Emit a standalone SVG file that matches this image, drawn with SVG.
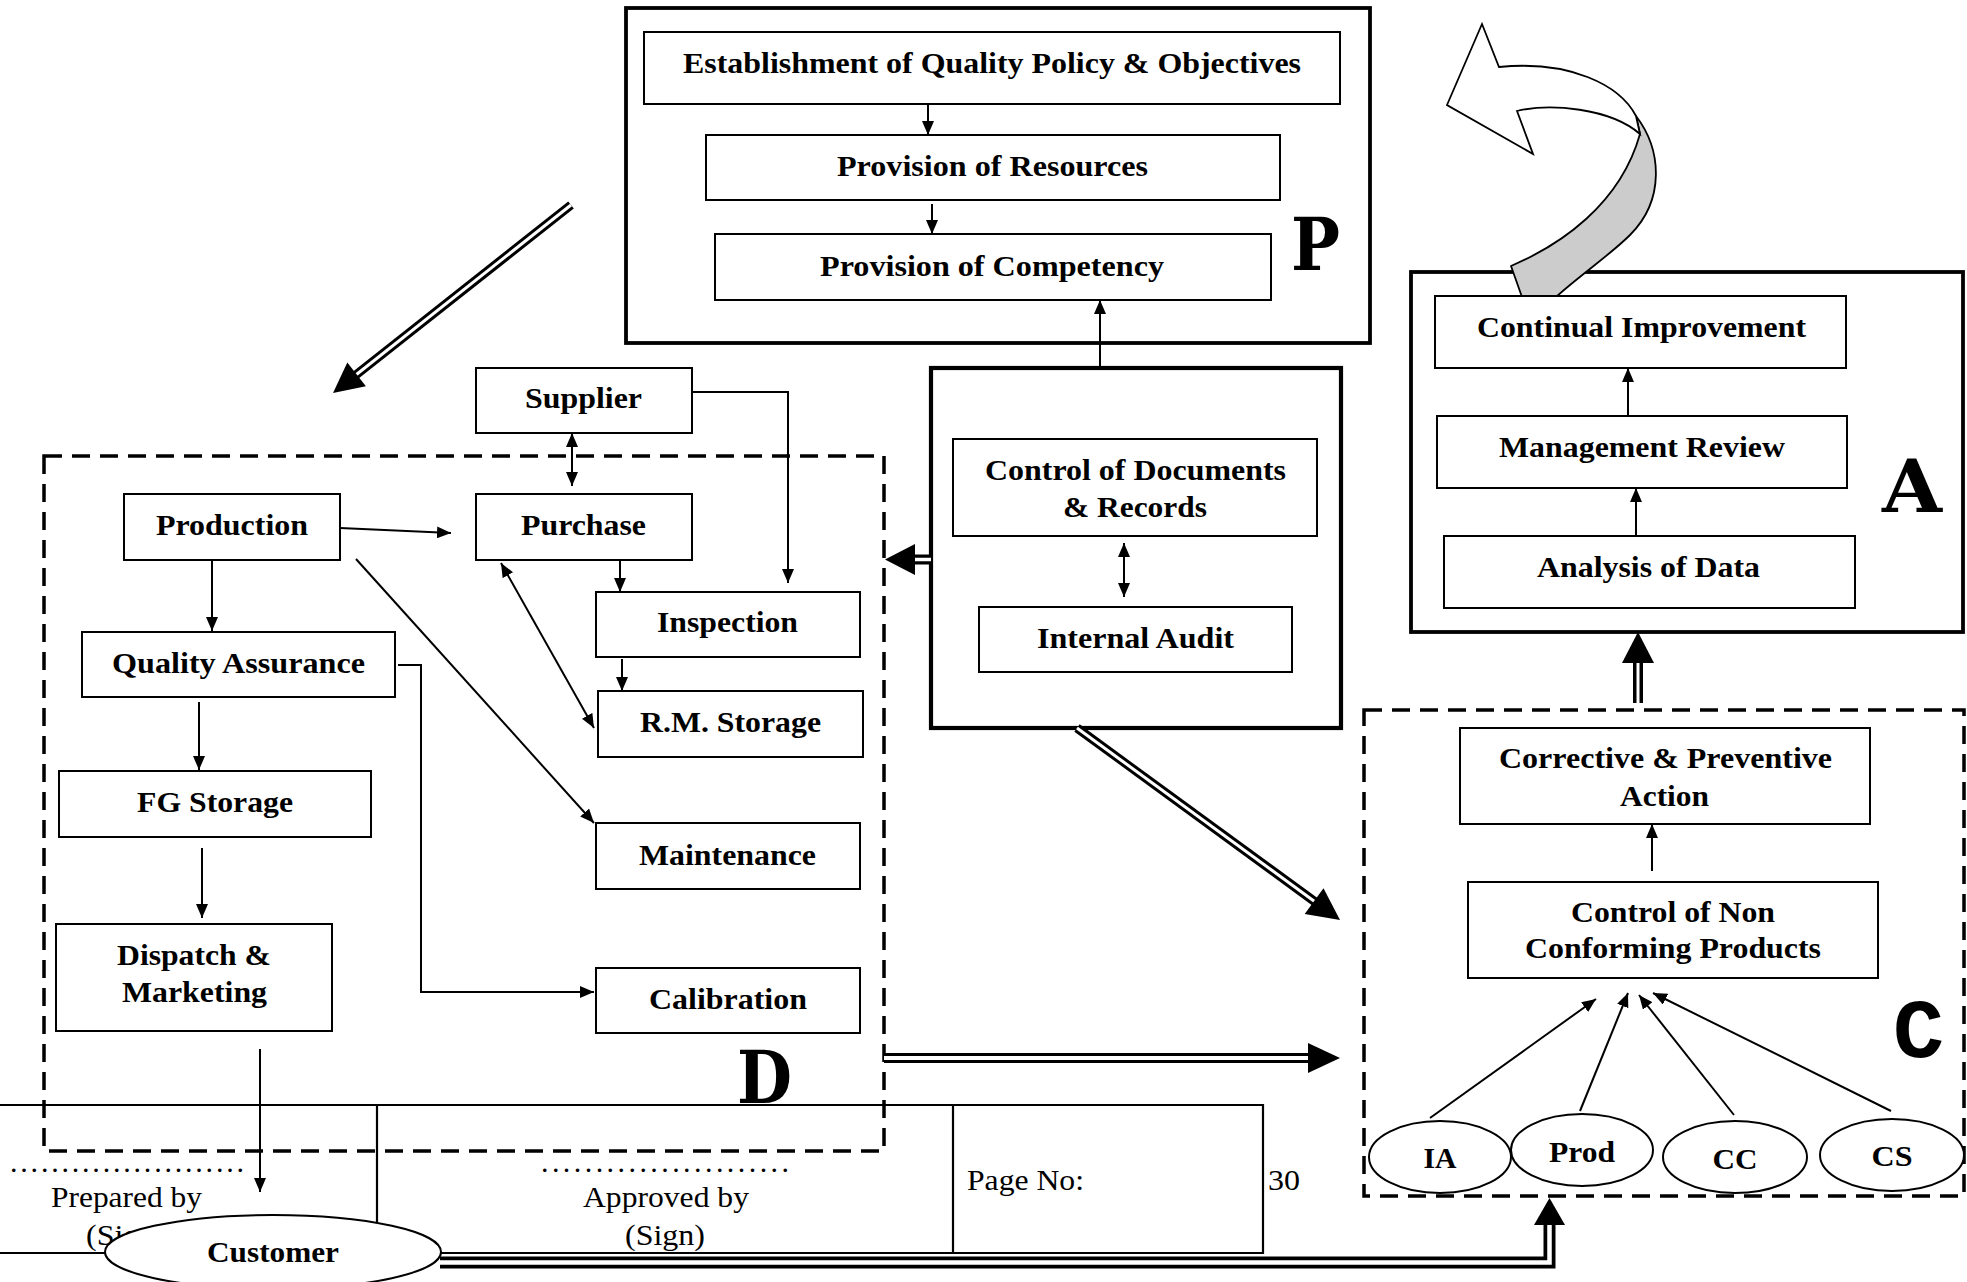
<svg xmlns="http://www.w3.org/2000/svg" width="1967" height="1282" viewBox="0 0 1967 1282">
<style>
.box{fill:#fff;stroke:#000;stroke-width:2}
.outer{fill:none;stroke:#000;stroke-width:3.8}
.dash{fill:none;stroke:#000;stroke-width:3.5;stroke-dasharray:18 10}
.t{font-family:"Liberation Serif","Times New Roman",serif;font-weight:bold;font-size:30px;fill:#000}
.r{font-weight:normal}
.big{font-family:"DejaVu Serif","Courier New",serif;font-weight:bold;font-size:72px;fill:#000}
.bigc{font-family:"Liberation Mono","Courier New",monospace;font-weight:bold;font-size:84px;fill:#000}
.ln{fill:none;stroke:#000;stroke-width:2}
.tbl{fill:none;stroke:#000;stroke-width:2.2}
.dblk{fill:none;stroke:#000;stroke-width:10}
.dwht{fill:none;stroke:#fff;stroke-width:4}
.ell{fill:#fff;stroke:#000;stroke-width:2}
</style>
<defs>
<marker id="ah" viewBox="0 0 14 12" refX="14" refY="6" markerWidth="14" markerHeight="12" markerUnits="userSpaceOnUse" orient="auto-start-reverse"><path d="M0,0 L14,6 L0,12 z" fill="#000"/></marker>
</defs>
<rect width="1967" height="1282" fill="#fff"/>

<!-- Footer table -->
<g id="footer">
<path class="tbl" d="M0,1105 H1263 V1253 H0 M377,1105 V1253 M953,1105 V1253"/>
<text class="t" x="10" y="1172" textLength="234" lengthAdjust="spacing" style="font-weight:normal">.......................</text>
<text class="t" x="541" y="1172" textLength="248" lengthAdjust="spacing" style="font-weight:normal">.......................</text>
<text class="t r" x="51" y="1207" textLength="151" lengthAdjust="spacingAndGlyphs" font-size="29">Prepared by</text>
<text class="t r" x="86" y="1245" textLength="80" lengthAdjust="spacingAndGlyphs" font-size="29">(Sign)</text>
<text class="t r" x="583" y="1207" textLength="166" lengthAdjust="spacingAndGlyphs" font-size="29">Approved by</text>
<text class="t r" x="625" y="1245" textLength="80" lengthAdjust="spacingAndGlyphs" font-size="29">(Sign)</text>
<text class="t r" x="967" y="1190" textLength="117" lengthAdjust="spacingAndGlyphs" font-size="29">Page No:</text>
<text class="t r" x="1268" y="1190" textLength="32" lengthAdjust="spacingAndGlyphs" font-size="29">30</text>
</g>

<!-- P section -->
<g id="plan">
<rect class="outer" x="626" y="8" width="744" height="335"/>
<text class="big" x="1291" y="270" textLength="49" lengthAdjust="spacingAndGlyphs">P</text>
</g>
<g id="establishment"><rect class="box" x="644" y="32" width="696" height="72"/>
<text class="t" x="683" y="73" font-size="27" textLength="618" lengthAdjust="spacingAndGlyphs">Establishment of Quality Policy &amp; Objectives</text></g>
<g id="resources"><rect class="box" x="706" y="135" width="574" height="65"/>
<text class="t" x="837" y="176" font-size="29" textLength="311" lengthAdjust="spacingAndGlyphs">Provision of Resources</text></g>
<g id="competency"><rect class="box" x="715" y="234" width="556" height="66"/>
<text class="t" x="820" y="276" font-size="29" textLength="344" lengthAdjust="spacingAndGlyphs">Provision of Competency</text></g>

<!-- D section -->
<g id="do">
<rect class="dash" x="44" y="456" width="840" height="695"/>
<text class="big" x="737" y="1103" textLength="55" lengthAdjust="spacingAndGlyphs">D</text>
</g>
<g id="supplier"><rect class="box" x="476" y="368" width="216" height="65"/>
<text class="t" x="525" y="408" textLength="117" lengthAdjust="spacingAndGlyphs">Supplier</text></g>
<g id="production"><rect class="box" x="124" y="494" width="216" height="66"/>
<text class="t" x="156" y="535" textLength="152" lengthAdjust="spacingAndGlyphs">Production</text></g>
<g id="purchase"><rect class="box" x="476" y="494" width="216" height="66"/>
<text class="t" x="521" y="535" textLength="125" lengthAdjust="spacingAndGlyphs">Purchase</text></g>
<g id="quality-assurance"><rect class="box" x="82" y="632" width="313" height="65"/>
<text class="t" x="112" y="673" textLength="253" lengthAdjust="spacingAndGlyphs">Quality Assurance</text></g>
<g id="inspection"><rect class="box" x="596" y="592" width="264" height="65"/>
<text class="t" x="657" y="632" textLength="141" lengthAdjust="spacingAndGlyphs">Inspection</text></g>
<g id="rm-storage"><rect class="box" x="598" y="691" width="265" height="66"/>
<text class="t" x="640" y="732" textLength="181" lengthAdjust="spacingAndGlyphs">R.M. Storage</text></g>
<g id="fg-storage"><rect class="box" x="59" y="771" width="312" height="66"/>
<text class="t" x="137" y="812" textLength="156" lengthAdjust="spacingAndGlyphs">FG Storage</text></g>
<g id="maintenance"><rect class="box" x="596" y="823" width="264" height="66"/>
<text class="t" x="639" y="865" textLength="177" lengthAdjust="spacingAndGlyphs">Maintenance</text></g>
<g id="dispatch"><rect class="box" x="56" y="924" width="276" height="107"/>
<text class="t" x="117" y="965" textLength="154" lengthAdjust="spacingAndGlyphs">Dispatch &amp;</text>
<text class="t" x="122" y="1002" textLength="145" lengthAdjust="spacingAndGlyphs">Marketing</text></g>
<g id="calibration"><rect class="box" x="596" y="968" width="264" height="65"/>
<text class="t" x="649" y="1009" textLength="158" lengthAdjust="spacingAndGlyphs">Calibration</text></g>

<!-- Check (control) box -->
<g id="control-box"><rect class="outer" x="931" y="368" width="410" height="360" style="stroke-width:4.2"/></g>
<g id="documents"><rect class="box" x="953" y="439" width="364" height="97"/>
<text class="t" x="985" y="480" textLength="301" lengthAdjust="spacingAndGlyphs">Control of Documents</text>
<text class="t" x="1063" y="517" textLength="144" lengthAdjust="spacingAndGlyphs">&amp; Records</text></g>
<g id="internal-audit"><rect class="box" x="979" y="607" width="313" height="65"/>
<text class="t" x="1037" y="648" textLength="197" lengthAdjust="spacingAndGlyphs">Internal Audit</text></g>

<!-- A section -->
<g id="act">
<rect class="outer" x="1411" y="272" width="552" height="360"/>
<text class="big" x="1882" y="512" textLength="60" lengthAdjust="spacingAndGlyphs">A</text>
</g>
<g id="cycle-arrow">
<path d="M1636,116 C1662,150 1665,200 1630,235 C1610,255 1580,275 1556,297 L1522,297 L1511,266 C1560,245 1620,205 1640,134 Z" fill="#ccc" stroke="#000" stroke-width="1.8" stroke-linejoin="round"/>
<path d="M1482,24 L1447,105 L1533,154 L1517,111 C1550,103 1610,108 1640,134 L1636,116 C1620,85 1570,60 1499,67 Z" fill="#fff" stroke="#000" stroke-width="1.8" stroke-linejoin="miter"/>
</g>
<g id="continual-improvement"><rect class="box" x="1435" y="296" width="411" height="72"/>
<text class="t" x="1477" y="337" textLength="329" lengthAdjust="spacingAndGlyphs">Continual Improvement</text></g>
<g id="management-review"><rect class="box" x="1437" y="416" width="410" height="72"/>
<text class="t" x="1499" y="457" textLength="286" lengthAdjust="spacingAndGlyphs">Management Review</text></g>
<g id="analysis"><rect class="box" x="1444" y="536" width="411" height="72"/>
<text class="t" x="1537" y="577" textLength="223" lengthAdjust="spacingAndGlyphs">Analysis of Data</text></g>

<!-- C section -->
<g id="check">
<rect class="dash" x="1364" y="710" width="600" height="486"/>
<text class="bigc" x="1893" y="1057" textLength="51" lengthAdjust="spacingAndGlyphs">C</text>
</g>
<g id="capa"><rect class="box" x="1460" y="728" width="410" height="96"/>
<text class="t" x="1499" y="768" textLength="333" lengthAdjust="spacingAndGlyphs">Corrective &amp; Preventive</text>
<text class="t" x="1620" y="806" textLength="89" lengthAdjust="spacingAndGlyphs">Action</text></g>
<g id="nonconforming"><rect class="box" x="1468" y="882" width="410" height="96"/>
<text class="t" x="1571" y="922" textLength="204" lengthAdjust="spacingAndGlyphs">Control of Non</text>
<text class="t" x="1525" y="958" textLength="296" lengthAdjust="spacingAndGlyphs">Conforming Products</text></g>
<g id="ia"><ellipse class="ell" cx="1440" cy="1157" rx="71" ry="36"/>
<text class="t" x="1440" y="1168" text-anchor="middle" textLength="33" lengthAdjust="spacingAndGlyphs">IA</text></g>
<g id="prod"><ellipse class="ell" cx="1582" cy="1150" rx="71" ry="36"/>
<text class="t" x="1582" y="1162" text-anchor="middle" textLength="66" lengthAdjust="spacingAndGlyphs">Prod</text></g>
<g id="cc"><ellipse class="ell" cx="1735" cy="1157" rx="72" ry="36"/>
<text class="t" x="1735" y="1169" text-anchor="middle" textLength="45" lengthAdjust="spacingAndGlyphs">CC</text></g>
<g id="cs"><ellipse class="ell" cx="1892" cy="1155" rx="72" ry="36"/>
<text class="t" x="1892" y="1166" text-anchor="middle" textLength="41" lengthAdjust="spacingAndGlyphs">CS</text></g>

<!-- Connectors -->
<g id="connectors">
<g class="ln" marker-end="url(#ah)">
<path d="M928,104 V135"/>
<path d="M932,204 V234"/>
<path d="M1100,368 V300"/>
<path d="M572,433 V486" marker-start="url(#ah)"/>
<path d="M692,392 H788 V583"/>
<path d="M340,528 L451,533"/>
<path d="M212,560 V631"/>
<path d="M356,559 L594,823"/>
<path d="M620,560 V592"/>
<path d="M501,563 L594,728" marker-start="url(#ah)"/>
<path d="M622,659 V691"/>
<path d="M199,702 V770"/>
<path d="M398,665 H421 V992 H594"/>
<path d="M202,848 V918"/>
<path d="M260,1049 V1192"/>
<path d="M1124,543 V597" marker-start="url(#ah)"/>
<path d="M1628,416 V368"/>
<path d="M1636,536 V488"/>
<path d="M1652,871 V824"/>
<path d="M1430,1118 L1596,999"/>
<path d="M1580,1111 L1628,993"/>
<path d="M1734,1115 L1639,995"/>
<path d="M1891,1111 L1653,993"/>
</g>
<g id="double-arrows">
<path class="dblk" d="M571,205 L352,378" style="stroke-width:9"/>
<path class="dwht" d="M571,205 L352,378" style="stroke-width:3"/>
<polygon points="333,393 365.9,386.2 347.3,362.6"/>
<path class="dblk" d="M931,559.5 H910"/>
<path class="dwht" d="M931,559.5 H910" style="stroke-width:3.5"/>
<polygon points="885,559.5 915,544 915,575"/>
<path class="dblk" d="M1077,728 L1318,904" style="stroke-width:9"/>
<path class="dwht" d="M1077,728 L1318,904" style="stroke-width:3"/>
<polygon points="1340,920 1304.7,914 1323.5,888.2"/>
<path class="dblk" d="M884,1058 H1312"/>
<path class="dwht" d="M884,1058 H1312"/>
<polygon points="1340,1058 1308,1043 1308,1073"/>
<path class="dblk" d="M1638,703 V658"/>
<path class="dwht" d="M1638,703 V658" style="stroke-width:3"/>
<polygon points="1638,632 1622,663 1654,663"/>
</g>
</g>

<!-- Customer -->
<g id="customer-link">
<path class="dblk" d="M440,1262.5 H1549.5 V1220" style="stroke-width:12"/>
<path class="dwht" d="M440,1262.5 H1549.5 V1220" style="stroke-width:4.5"/>
<polygon points="1549.5,1198 1534,1225 1565,1225"/>
</g>
<g id="customer"><ellipse class="ell" cx="273" cy="1252" rx="168" ry="37"/>
<text class="t" x="207" y="1262" textLength="132" lengthAdjust="spacingAndGlyphs">Customer</text></g>
</svg>
